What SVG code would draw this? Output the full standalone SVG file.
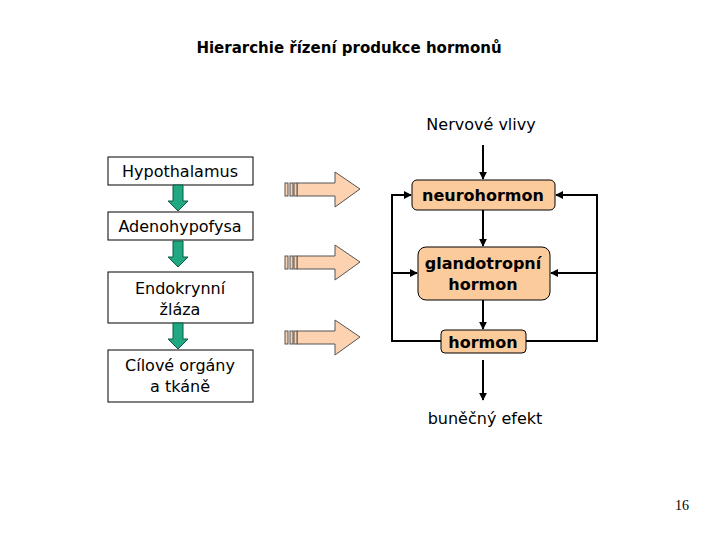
<svg xmlns="http://www.w3.org/2000/svg" width="720" height="540" viewBox="0 0 720 540">
<defs>
<style>
text{font-family:Tahoma,"DejaVu Sans",sans-serif;font-size:16px;fill:#000;text-anchor:middle}
.b{font-weight:bold}
.box{fill:#fff;stroke:#000;stroke-width:1}
.obox{fill:#fccb9c;stroke:#000;stroke-width:1}
.ln{fill:none;stroke:#000;stroke-width:2}
.g{fill:#20a882;stroke:#0a5a44;stroke-width:1}
.ba{fill:#fcd2b0;stroke:#555;stroke-width:1}
</style>
<marker id="ah" viewBox="0 0 10 10" refX="9" refY="5" markerWidth="4" markerHeight="4" orient="auto"><path d="M0,0L10,5L0,10z" fill="#000"/></marker>
<g id="garrow"><path class="g" d="M-5,0H5V16H10L0,26L-10,16H-5Z"/></g>
<g id="barrow"><path class="ba" d="M12,11H50V0L75,17L50,35V24H12Z"/><rect x="0" y="11" width="3" height="13" class="ba"/><rect x="5" y="11" width="3" height="13" class="ba"/><rect x="9" y="11" width="3" height="13" class="ba"/></g>
</defs>
<rect width="720" height="540" fill="#fff"/>
<text x="349" y="53" style="font-size:15px" class="b">Hierarchie řízení produkce hormonů</text>
<g id="hypothalamus"><rect class="box" x="108" y="157" width="145" height="28"/><text x="180" y="177">Hypothalamus</text></g>
<g id="adenohypofysa"><rect class="box" x="108" y="212" width="145" height="28"/><text x="180" y="232">Adenohypofysa</text></g>
<g id="endokrinni"><rect class="box" x="108" y="272" width="145" height="51"/><text x="180" y="294">Endokrynní</text><text x="180" y="315">žláza</text></g>
<g id="cilove"><rect class="box" x="108" y="350" width="145" height="52"/><text x="180" y="371">Cílové orgány</text><text x="180" y="392">a tkáně</text></g>
<g id="neurohormon"><rect class="obox" x="412" y="180" width="143" height="30" rx="5"/><text x="483" y="201" class="b">neurohormon</text></g>
<g id="glandotropni"><rect class="obox" x="418" y="247" width="132" height="53" rx="8"/><text x="483" y="269" class="b">glandotropní</text><text x="483" y="290" class="b">hormon</text></g>
<g id="hormon"><rect class="obox" x="441" y="330" width="85" height="23" rx="4"/><text x="483" y="348" class="b">hormon</text></g>
<text x="481" y="130">Nervové vlivy</text>
<text x="485" y="424">buněčný efekt</text>
<text x="682" y="510" style="font-family:'Liberation Serif',serif;font-size:14px">16</text>
<g id="connectors">
<use href="#garrow" x="178" y="185"/>
<use href="#garrow" x="178" y="241"/>
<use href="#garrow" x="178" y="323"/>
<use href="#barrow" x="285" y="172"/>
<use href="#barrow" x="285" y="245"/>
<use href="#barrow" x="285" y="320"/>
<line class="ln" x1="483" y1="145" x2="483" y2="179" marker-end="url(#ah)"/>
<line class="ln" x1="483" y1="210" x2="483" y2="246" marker-end="url(#ah)"/>
<line class="ln" x1="483" y1="300" x2="483" y2="329" marker-end="url(#ah)"/>
<line class="ln" x1="483" y1="360" x2="483" y2="400" marker-end="url(#ah)"/>
<path class="ln" d="M441,341H392V195H411" marker-end="url(#ah)"/>
<path class="ln" d="M392,273H417" marker-end="url(#ah)"/>
<path class="ln" d="M526,341H597V195H556" marker-end="url(#ah)"/>
<path class="ln" d="M597,273H551" marker-end="url(#ah)"/>
</g>
</svg>
